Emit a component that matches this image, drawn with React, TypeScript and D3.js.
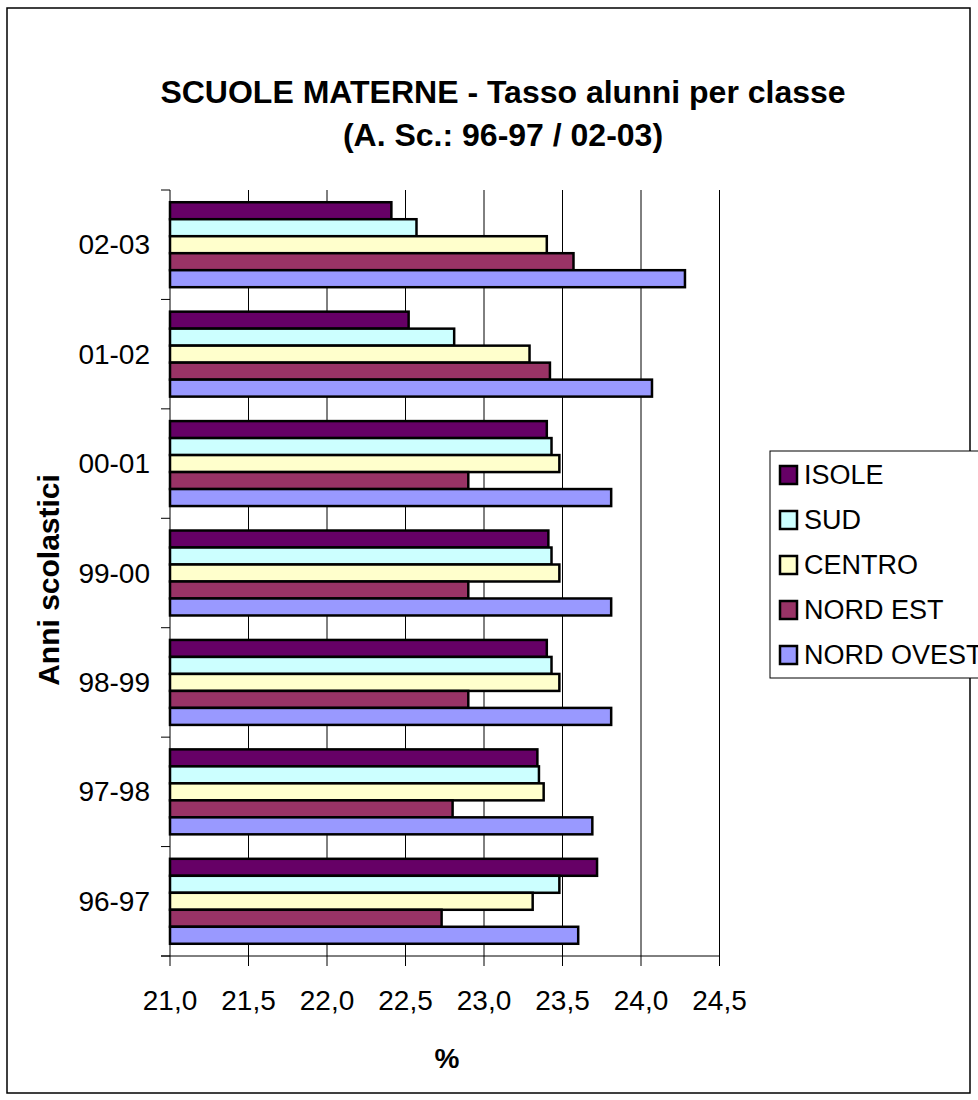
import React, { useEffect } from "react";
import * as d3 from "d3";

const years = ["96-97", "97-98", "98-99", "99-00", "00-01", "01-02", "02-03"];
const seriesNames = ["ISOLE", "SUD", "CENTRO", "NORD EST", "NORD OVEST"];
const seriesColors = ["#660066", "#CCFFFF", "#FFFFCC", "#993366", "#9999FF"];

const isole = [23.72, 23.34, 23.4, 23.41, 23.4, 22.52, 22.41];
const sud = [23.48, 23.35, 23.43, 23.43, 23.43, 22.81, 22.57];
const centro = [23.31, 23.38, 23.48, 23.48, 23.48, 23.29, 23.4];
const nordEst = [22.73, 22.8, 22.9, 22.9, 22.9, 23.42, 23.57];
const nordOvest = [23.6, 23.69, 23.81, 23.81, 23.81, 24.07, 24.28];

const xTicks = [21.0, 21.5, 22.0, 22.5, 23.0, 23.5, 24.0, 24.5];

const titleLine1 = "SCUOLE MATERNE - Tasso alunni per classe";
const titleLine2 = "(A. Sc.: 96-97 / 02-03)";
const yTitle = "Anni scolastici";
const xTitle = "%";

const FONT = "'Liberation Sans', Arial, Helvetica, sans-serif";

export default function App() {
  useEffect(() => {
    document.body.style.margin = "0";
  }, []);

  const W = 978;
  const H = 1100;
  const left = 170;
  const right = 719.5;
  const top = 190;
  const bottom = 956;

  const allSeries = [isole, sud, centro, nordEst, nordOvest];

  const x = d3.scaleLinear().domain([21, 24.5]).range([left, right]);
  const y = d3
    .scaleBand<string>()
    .domain([...years].reverse())
    .range([top, bottom])
    .paddingInner(0)
    .paddingOuter(0);
  const step = y.bandwidth();
  const inner = d3
    .scaleBand<string>()
    .domain(seriesNames)
    .range([0, step])
    .paddingInner(0)
    .paddingOuter(0.72);

  const comma = (v: number) => d3.format(".1f")(v).replace(".", ",");

  return (
    <svg width={W} height={H} style={{ display: "block", background: "#fff" }} fontFamily={FONT}>
      <rect x={7} y={8} width={963} height={1085} fill="#fff" stroke="#000" strokeWidth={1.5} />

      {/* title */}
      <text x={503} y={103} textAnchor="middle" fontSize={32} fontWeight="bold" fill="#000">
        {titleLine1}
      </text>
      <text x={503} y={146} textAnchor="middle" fontSize={32} fontWeight="bold" fill="#000">
        {titleLine2}
      </text>

      {/* gridlines */}
      {xTicks.slice(1).map((t) => (
        <line key={"g" + t} x1={x(t)} x2={x(t)} y1={top} y2={bottom} stroke="#000" strokeWidth={1} />
      ))}

      {/* bars */}
      {years.map((yr, i) => (
        <g key={yr} transform={`translate(0,${y(yr)})`}>
          {seriesNames.map((s, j) => (
            <rect
              key={s}
              x={x(21)}
              y={inner(s)}
              width={x(allSeries[j][i]) - x(21)}
              height={inner.bandwidth()}
              fill={seriesColors[j]}
              stroke="#000"
              strokeWidth={2.5}
            />
          ))}
        </g>
      ))}

      {/* y axis */}
      <line x1={left} x2={left} y1={top} y2={bottom} stroke="#000" strokeWidth={1} />
      {[...years.map((yr) => y(yr) as number), bottom].map((yy, k) => (
        <line key={"yt" + k} x1={left - 9} x2={left} y1={yy} y2={yy} stroke="#000" strokeWidth={1} />
      ))}
      {years.map((yr) => (
        <text
          key={"yl" + yr}
          x={150}
          y={(y(yr) as number) + step / 2}
          textAnchor="end"
          dominantBaseline="central"
          fontSize={28}
          fill="#000"
        >
          {yr}
        </text>
      ))}

      {/* x axis */}
      <line x1={left - 9} x2={right} y1={bottom} y2={bottom} stroke="#000" strokeWidth={1} />
      {xTicks.map((t) => (
        <g key={"xt" + t}>
          <line x1={x(t)} x2={x(t)} y1={bottom} y2={bottom + 10} stroke="#000" strokeWidth={1} />
          <text x={x(t)} y={1010} textAnchor="middle" fontSize={28} fill="#000">
            {comma(t)}
          </text>
        </g>
      ))}

      {/* axis titles */}
      <text x={447} y={1068} textAnchor="middle" fontSize={28} fontWeight="bold" fill="#000">
        {xTitle}
      </text>
      <text
        transform={`translate(59,580) rotate(-90)`}
        textAnchor="middle"
        fontSize={30}
        fontWeight="bold"
        fill="#000"
      >
        {yTitle}
      </text>

      {/* legend */}
      <rect x={770} y={451} width={230} height={227} fill="#fff" stroke="#000" strokeWidth={1} />
      {seriesNames.map((s, j) => (
        <g key={"lg" + s} transform={`translate(0,${475 + j * 45})`}>
          <rect x={780} y={-9} width={17} height={18} fill={seriesColors[j]} stroke="#000" strokeWidth={2.5} />
          <text x={804} y={0} dominantBaseline="central" fontSize={27} fill="#000">
            {s}
          </text>
        </g>
      ))}
    </svg>
  );
}
